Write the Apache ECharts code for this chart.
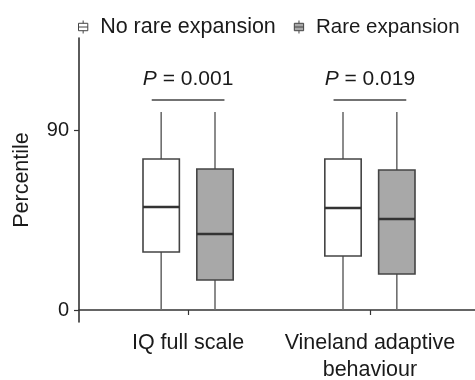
<!DOCTYPE html>
<html>
<head>
<meta charset="utf-8">
<script src="https://cdn.jsdelivr.net/npm/echarts@6/dist/echarts.min.js"></script>
<style>
  html, body { margin: 0; padding: 0; background: #fff; }
  #chart { width: 475px; height: 380px; }
</style>
</head>
<body>
<div id="chart"></div>
<script>
// categories and box stats: [min, Q1, median, Q3, max]
var categories = ['IQ full scale', 'Vineland adaptive\nbehaviour'];
var noRareStats = [
  [0, 29, 51.5, 75.5, 99],
  [0, 27, 51, 75.5, 99]
];
var rareStats = [
  [0, 15, 38, 70.5, 99],
  [0, 18, 45.5, 70, 99]
];
var pValues = ['0.001', '0.019'];
var bracketY = [105, 105];
var pLabelY = [115.5, 115.5];
var yTicks = [0, 90];

var font = 'Liberation Sans, Arial, sans-serif';
var dodge = 0.148;
var boxW = 0.2;

function toData(stats) {
  return stats.map(function (d, i) {
    return [i + 1].concat(d);
  });
}

function boxRender(offset, fill) {
  return function (params, api) {
    var x = api.value(0) + offset;
    var pMin = api.coord([x, api.value(1)]);
    var pQ1 = api.coord([x, api.value(2)]);
    var pMed = api.coord([x, api.value(3)]);
    var pQ3 = api.coord([x, api.value(4)]);
    var pMax = api.coord([x, api.value(5)]);
    var hw = api.size([boxW, 0])[0] / 2;
    var cx = pMed[0];
    return {
      type: 'group',
      children: [
        {type: 'line', shape: {x1: cx, y1: pMin[1], x2: cx, y2: pQ1[1]},
          style: {stroke: '#6e6e6e', lineWidth: 1.6}},
        {type: 'line', shape: {x1: cx, y1: pQ3[1], x2: cx, y2: pMax[1]},
          style: {stroke: '#6e6e6e', lineWidth: 1.6}},
        {type: 'rect', shape: {x: cx - hw, y: pQ3[1], width: hw * 2, height: pQ1[1] - pQ3[1]},
          style: {fill: fill, stroke: '#444', lineWidth: 1.6}},
        {type: 'line', shape: {x1: cx - hw, y1: pMed[1], x2: cx + hw, y2: pMed[1]},
          style: {stroke: '#333', lineWidth: 2.6}}
      ]
    };
  };
}

function annotRender(params, api) {
  var i = params.dataIndex;
  var x = api.value(0);
  var l = api.coord([x - 0.2, api.value(1)]);
  var r = api.coord([x + 0.2, api.value(1)]);
  var t = api.coord([x, api.value(2)]);
  return {
    type: 'group',
    children: [
      {type: 'line', shape: {x1: l[0], y1: l[1], x2: r[0], y2: r[1]},
        style: {stroke: '#444', lineWidth: 1.6}},
      {type: 'text', x: t[0], y: t[1],
        style: {
          text: '{i|P} = ' + pValues[i],
          rich: {i: {fontStyle: 'italic', fontSize: 21, fontFamily: font, fill: '#1a1a1a'}},
          fontSize: 21, fontFamily: font, fill: '#1a1a1a',
          align: 'center', verticalAlign: 'middle'
        }}
    ]
  };
}

var boxIcon = 'path://M5,0L5,3M0,3L10,3L10,11L0,11ZM0,7L10,7M5,11L5,14';

var chart = echarts.init(document.getElementById('chart'));
var option = {
  animation: false,
  textStyle: {fontFamily: font},
  legend: {
    left: 73,
    top: 11,
    itemWidth: 10,
    itemHeight: 13,
    itemGap: 18,
    textStyle: {fontSize: 21.5, color: '#1a1a1a', fontFamily: font, padding: [0, 0, 0, 7]},
    data: [
      {name: 'No rare expansion', icon: boxIcon,
        itemStyle: {color: '#fff', borderColor: '#444', borderWidth: 1}},
      {name: 'Rare expansion', icon: boxIcon,
        textStyle: {fontSize: 20.5},
        itemStyle: {color: '#a8a8a8', borderColor: '#444', borderWidth: 1}}
    ]
  },
  grid: {left: 79, right: -4, top: 38, bottom: 58, outerBoundsMode: 'none', containLabel: false},
  xAxis: [{
    type: 'value',
    min: 0.4,
    max: 2.6,
    splitLine: {show: false},
    axisLine: {lineStyle: {color: '#333', width: 1.6}},
    axisTick: {show: true, length: 5, customValues: [1, 2], lineStyle: {color: '#333', width: 1.2}},
    axisLabel: {
      customValues: [1, 2],
      margin: 8,
      fontSize: 21.5,
      lineHeight: 27,
      color: '#1a1a1a',
      formatter: function (v) { return categories[Math.round(v) - 1]; }
    }
  }],
  yAxis: {
    type: 'value',
    min: -6,
    max: 136,
    name: 'Percentile',
    nameLocation: 'middle',
    nameGap: 46,
    nameTextStyle: {fontSize: 21.5, color: '#1a1a1a'},
    splitLine: {show: false},
    axisLine: {show: true, lineStyle: {color: '#333', width: 1.6}},
    axisTick: {show: true, length: 5, customValues: yTicks, lineStyle: {color: '#333', width: 1.2}},
    axisLabel: {customValues: yTicks, margin: 10, fontSize: 20, color: '#1a1a1a'}
  },
  series: [
    {
      name: 'No rare expansion',
      type: 'custom',
      renderItem: boxRender(-dodge, '#fff'),
      encode: {x: 0, y: [1, 2, 3, 4, 5]},
      itemStyle: {color: '#fff', borderColor: '#444'},
      data: toData(noRareStats)
    },
    {
      name: 'Rare expansion',
      type: 'custom',
      renderItem: boxRender(dodge, '#a8a8a8'),
      encode: {x: 0, y: [1, 2, 3, 4, 5]},
      itemStyle: {color: '#a8a8a8', borderColor: '#444'},
      data: toData(rareStats)
    },
    {
      name: 'annot',
      type: 'custom',
      renderItem: annotRender,
      encode: {x: 0, y: [1, 2]},
      silent: true,
      data: pValues.map(function (p, i) { return [i + 1, bracketY[i], pLabelY[i]]; })
    }
  ]
};
chart.setOption(option);
</script>
</body>
</html>
